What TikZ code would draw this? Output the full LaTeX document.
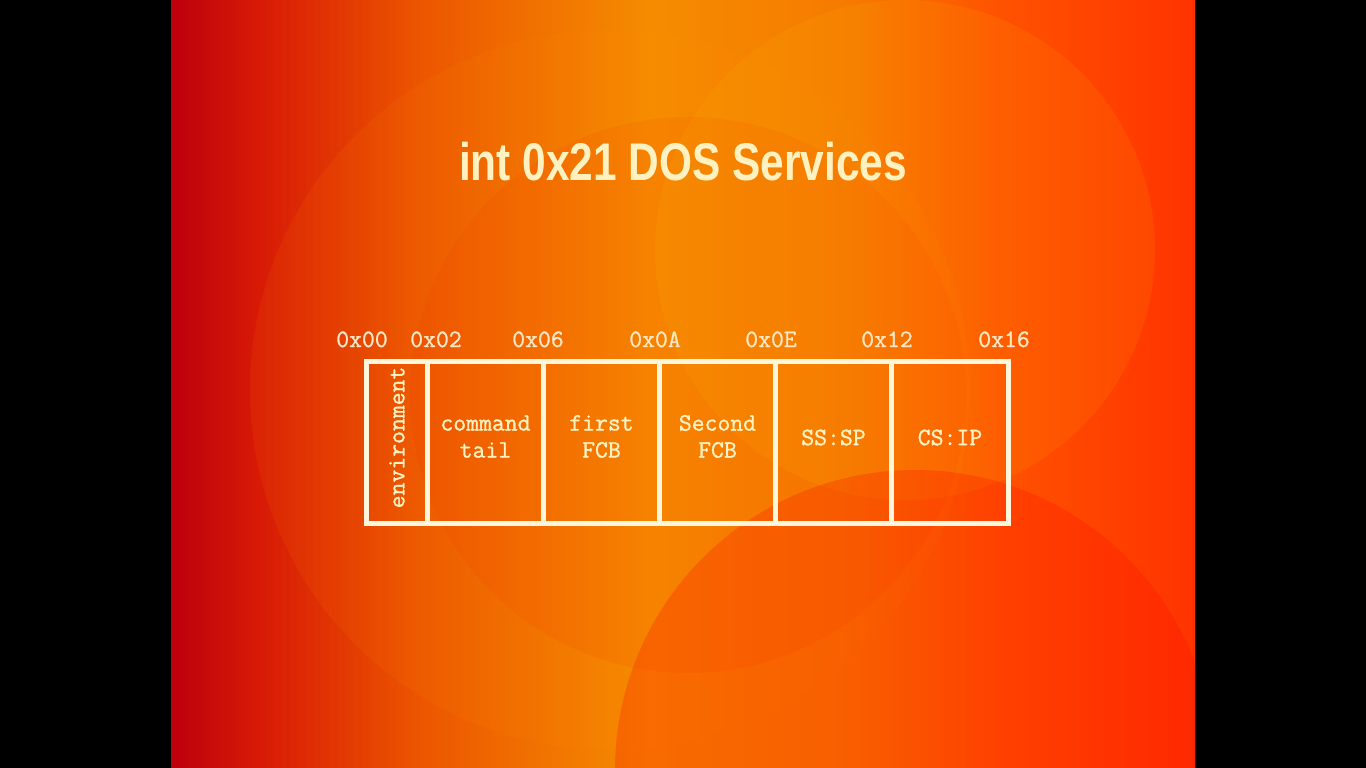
\documentclass[tikz,border=0pt]{standalone}
\usepackage{fontspec}
\setmainfont{Liberation Sans}
\newfontfamily\monofont[FakeBold=1.2]{Latin Modern Mono}
\newfontfamily\titlefont[FakeStretch=0.8]{Liberation Sans Bold}
\definecolor{ink}{HTML}{FFF2C0}
\definecolor{rule}{HTML}{FFF6DC}
\definecolor{labelink}{HTML}{FFE6C4}
\definecolor{bgA}{HTML}{BC000C}
\definecolor{bgB}{HTML}{D81A06}
\definecolor{bgC}{HTML}{EC5600}
\definecolor{bgD}{HTML}{F58C00}
\definecolor{bgE}{HTML}{F67A00}
\definecolor{bgF}{HTML}{FF5200}
\definecolor{bgG}{HTML}{FF3300}
\tikzset{
  cell/.style={draw=rule, line width=5pt, rectangle, inner sep=0pt,
    minimum height=162pt, anchor=north west},
  celltext/.style={text=ink, inner sep=0pt, align=center,
    font=\monofont\fontsize{25}{27}\selectfont},
  addr/.style={text=labelink, inner sep=0pt, anchor=base,
    font=\monofont\fontsize{25}{27}\selectfont},
}
\begin{document}
\begin{tikzpicture}[x=1pt,y=-1pt]
\useasboundingbox (0,0) rectangle (1366,768);
% black surround
\fill[black] (0,0) rectangle (1366,768);
% slide background: horizontal colour bands
\shade[left color=bgA, right color=bgB] (171,0) rectangle (260.5,768);
\shade[left color=bgB, right color=bgC] (260,0) rectangle (420.5,768);
\shade[left color=bgC, right color=bgD] (420,0) rectangle (650.5,768);
\shade[left color=bgD, right color=bgE] (650,0) rectangle (850.5,768);
\shade[left color=bgE, right color=bgF] (850,0) rectangle (1000.5,768);
\shade[left color=bgF, right color=bgG] (1000,0) rectangle (1195,768);
% soft decorative discs
\begin{scope}
  \clip (171,0) rectangle (1195,768);
  \fill[orange!90!yellow, opacity=0.10] (610,390) circle (360);
  \fill[red!80!orange, opacity=0.08] (688,395) circle (278);
  \fill[yellow!60!orange, opacity=0.10] (905,250) circle (250);
  \fill[red!90!orange, opacity=0.25] (915,770) circle (300);
\end{scope}
% title
\node[text=ink, inner sep=0pt, anchor=base,
  font=\titlefont\fontsize{53}{60}\selectfont] (title) at (683,180)
  {int 0x21 DOS Services};
% memory layout cells
\node[cell, minimum width=61pt]  (env)    at (364,359) {};
\node[cell, minimum width=116pt] (cmd)    at (425,359) {};
\node[cell, minimum width=116pt] (fcbone) at (541,359) {};
\node[cell, minimum width=116pt] (fcbtwo) at (657,359) {};
\node[cell, minimum width=116pt] (sssp)   at (773,359) {};
\node[cell, minimum width=117pt] (csip)   at (889,359) {};
% cell contents
\node[celltext, rotate=90, font=\monofont\fontsize{25}{27}\selectfont]
  (envtext) at ([yshift=5pt]env.center) {environment};
\node[celltext] (cmdtext) at ([yshift=6pt]cmd.center) {command\\tail};
\node[celltext] (fcbonetext) at ([yshift=6pt]fcbone.center) {first\\FCB};
\node[celltext] (fcbtwotext) at ([yshift=6pt]fcbtwo.center) {Second\\FCB};
\node[celltext] (ssstext) at ([yshift=5pt]sssp.center) {SS:SP};
\node[celltext] (csiptext) at ([yshift=5pt]csip.center) {CS:IP};
% offsets
\node[addr] (a00) at (362,347) {0x00};
\node[addr] (a02) at (436,347) {0x02};
\node[addr] (a06) at (538,347) {0x06};
\node[addr] (a0A) at (655,347) {0x0A};
\node[addr] (a0E) at (771,347) {0x0E};
\node[addr] (a12) at (887,347) {0x12};
\node[addr] (a16) at (1004,347) {0x16};
\end{tikzpicture}
\end{document}
